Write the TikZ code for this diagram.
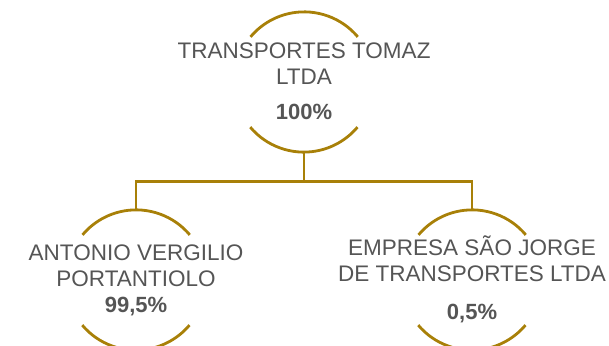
\documentclass[tikz,border=0pt]{standalone}
\usepackage{fontspec}
\setmainfont{Liberation Sans}
\usetikzlibrary{positioning}
\definecolor{ouro}{RGB}{168,128,8}
\definecolor{texto}{RGB}{85,85,85}
\tikzset{
  socio/.style={circle, minimum size=140pt, inner sep=0pt},
  nome/.style={text=texto, align=center, inner sep=0pt, font=\fontsize{22.5}{26}\selectfont},
  perc/.style={text=texto, inner sep=0pt, font=\bfseries\fontsize{22}{26}\selectfont},
  arco/.style={draw=ouro, line width=2.8pt},
}
\begin{document}
\begin{tikzpicture}[x=1pt,y=1pt]
  \useasboundingbox (0,0) rectangle (609,345);
  %% circulos
  \node[socio] (c0) at (304,263) {};
  \node[socio] (c1) at (136,65) {};
  \node[socio] (c2) at (472,65) {};
  \foreach \c in {c0,c1,c2}{
    \draw[arco] (\c.40) arc[start angle=40, end angle=140, radius=70pt];
    \draw[arco] (\c.220) arc[start angle=220, end angle=320, radius=70pt];
  }
  %% textos
  \node[nome] (n0) at (304,281) {TRANSPORTES TOMAZ\\LTDA};
  \node[perc, below=19 of n0] (p0) {100\%};
  \node[nome] (n1) at (136,79) {ANTONIO VERGILIO\\PORTANTIOLO};
  \node[perc, below=10 of n1] (p1) {99,5\%};
  \node[nome] (n2) at (472,86) {EMPRESA SÃO JORGE\\DE TRANSPORTES LTDA};
  \node[perc, below=22 of n2] (p2) {0,5\%};
  % ligacoes
  \coordinate (j) at ([yshift=-29pt]c0.south);
  \draw[arco] (c0.south) -- (j);
  \draw[arco] (c1.north) |- (j) -| (c2.north);
\end{tikzpicture}
\end{document}
